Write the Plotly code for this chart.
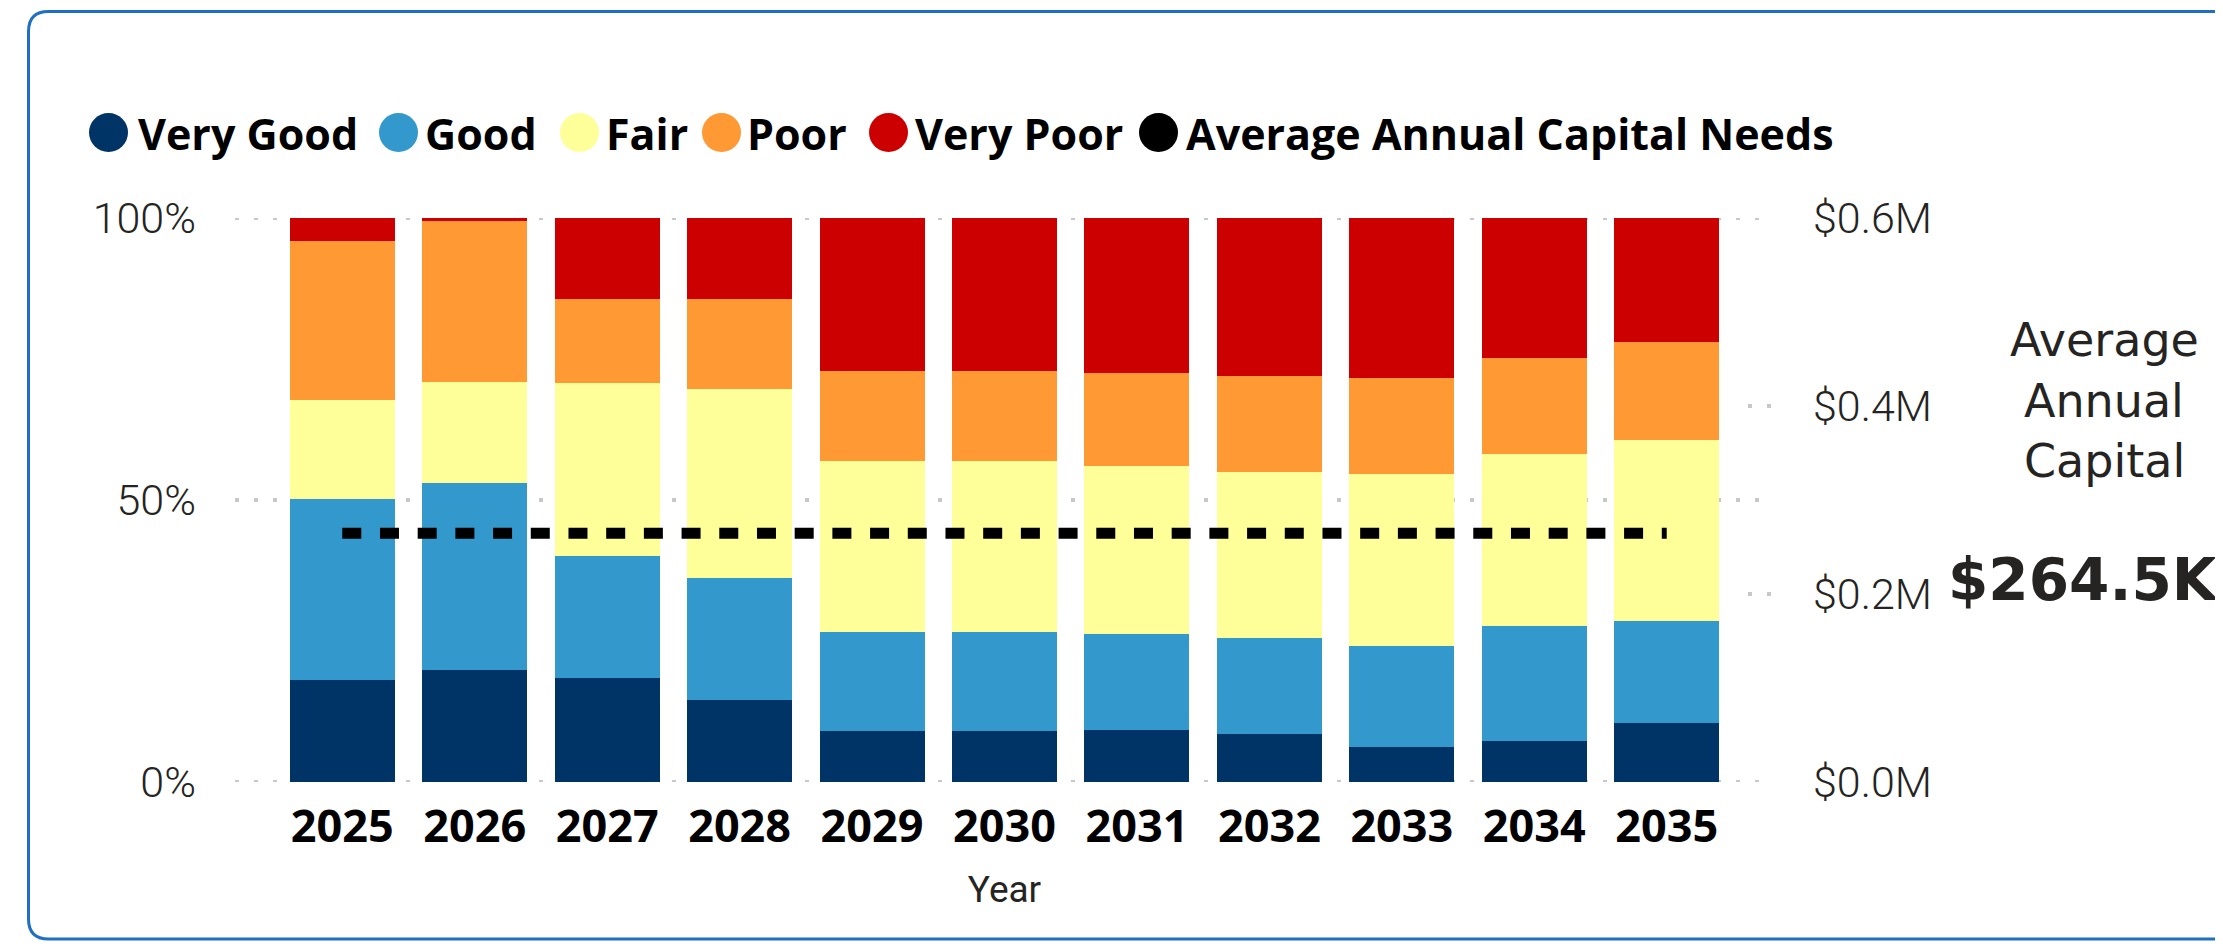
import plotly.graph_objects as go

# ---------------- data ----------------
years = ["2025", "2026", "2027", "2028", "2029", "2030", "2031", "2032", "2033", "2034", "2035"]
very_good = [0.181, 0.198, 0.184, 0.145, 0.090, 0.090, 0.092, 0.085, 0.062, 0.072, 0.104]
good      = [0.320, 0.332, 0.216, 0.217, 0.176, 0.176, 0.171, 0.170, 0.180, 0.204, 0.181]
fair      = [0.176, 0.179, 0.307, 0.334, 0.303, 0.303, 0.297, 0.294, 0.304, 0.305, 0.321]
poor      = [0.283, 0.285, 0.150, 0.160, 0.160, 0.160, 0.165, 0.170, 0.171, 0.170, 0.175]
very_poor = [0.040, 0.006, 0.143, 0.144, 0.271, 0.271, 0.275, 0.281, 0.283, 0.249, 0.219]
avg_annual_capital = 264500

pct_ticks = [0, 0.5, 1.0]
pct_labels = ["0%", "50%", "100%"]
money_ticks = [0, 200000, 400000, 600000]
money_labels = ["$0.0M", "$0.2M", "$0.4M", "$0.6M"]

series_names = ["Very Good", "Good", "Fair", "Poor", "Very Poor"]
series_values = [very_good, good, fair, poor, very_poor]
series_colors = ["#003366", "#3399CC", "#FFFF99", "#FF9933", "#CC0000"]
line_name = "Average Annual Capital Needs"
card_lines = ["Average", "Annual", "Capital"]
card_value = "$264.5K"

# ---------------- layout geometry ----------------
# measurements are in page pixels; the html body adds an 8px offset
OFF = 8
W, H = 2223, 944
L, R, T, B = 235 - OFF, 1774 - OFF, 218 - OFF, 782 - OFF
PW, PH = R - L, B - T


def X(px):
    return (px - OFF - L) / PW


def Y(py):
    return (B - (py - OFF)) / PH


fig = go.Figure()

for name, vals, col in zip(series_names, series_values, series_colors):
    fig.add_trace(go.Bar(
        x=years, y=vals, name=name, marker=dict(color=col, line=dict(width=0)),
        showlegend=False, hoverinfo="skip"))

fig.add_trace(go.Scatter(
    x=[years[0], years[-1]], y=[avg_annual_capital, avg_annual_capital],
    yaxis="y2", mode="lines", name=line_name, showlegend=False,
    line=dict(color="#000000", width=11, dash="19px,18.7px")))

tick_font = dict(family="Roboto, Open Sans, sans-serif", size=43, color="#252423", weight=300)
grid_color = "#c8c8c8"
grid_dash = "4px,15px"

fig.update_layout(
    width=W, height=H,
    margin=dict(l=L, r=W - R, t=T, b=H - B, pad=0),
    paper_bgcolor="white", plot_bgcolor="white",
    barmode="stack", bargap=0.207,
    xaxis=dict(
        type="category", range=[-0.81, 10.81], showgrid=False, showline=False, zeroline=False,
        tickfont=dict(family="Open Sans, sans-serif", size=45, color="#000000", weight=700),
        ticks="", ticklabelstandoff=14,
        title=dict(text="Year", standoff=22,
                   font=dict(family="Roboto, Open Sans, sans-serif", size=37, color="#252423")),
    ),
    yaxis=dict(
        range=[0, 1], tickvals=pct_ticks, ticktext=pct_labels, showline=False, zeroline=False,
        showgrid=True, gridcolor=grid_color, gridwidth=4, griddash=grid_dash,
        tickfont=tick_font, ticks="", ticklabelstandoff=38,
    ),
    yaxis2=dict(
        overlaying="y", side="right", range=[0, 600000], tickvals=money_ticks, ticktext=money_labels,
        showgrid=False, showline=False, zeroline=False,
        tickfont=tick_font, ticks="", ticklabelstandoff=38,
    ),
)

shapes = []
annotations = []

# dotted grid lines at the ends of the percentage axis (plotly drops edge grid lines)
for v in (pct_ticks[0], pct_ticks[-1]):
    shapes.append(dict(type="line", xref="paper", yref="y", x0=0, x1=1, y0=v, y1=v,
                       line=dict(color=grid_color, width=4, dash=grid_dash), layer="below"))

# short dotted y2 grid marks at the right edge
for v in money_ticks[1:-1]:
    shapes.append(dict(type="line", xref="paper", yref="y2", x0=X(1748), x1=X(1776), y0=v, y1=v,
                       line=dict(color=grid_color, width=4, dash=grid_dash), layer="below"))

# custom legend (large round markers)
legend_names = series_names + [line_name]
legend_colors = series_colors + ["#000000"]
circle_x = [89, 379, 560, 702, 869, 1139]
text_x = [136, 423, 604, 745, 913, 1184]
cy, d = 132.5, 39
for nm, col, cx, tx in zip(legend_names, legend_colors, circle_x, text_x):
    shapes.append(dict(type="circle", xref="paper", yref="paper",
                       x0=X(cx), x1=X(cx + d), y0=Y(cy + d / 2), y1=Y(cy - d / 2),
                       fillcolor=col, line=dict(width=0)))
    annotations.append(dict(text=nm, xref="paper", yref="paper", x=X(tx), y=Y(cy + 1),
                            xanchor="left", yanchor="middle", showarrow=False,
                            font=dict(family="Open Sans, sans-serif", size=43, color="#000000", weight=700)))

# card text on the right
for txt, yy in zip(card_lines, [340, 401, 461]):
    annotations.append(dict(text=txt, xref="paper", yref="paper",
                            x=X(2104), y=Y(yy), xanchor="center", yanchor="middle", showarrow=False,
                            font=dict(family="DejaVu Sans, sans-serif", size=46, color="#252423")))
annotations.append(dict(text=card_value, xref="paper", yref="paper",
                        x=X(2083), y=Y(580), xanchor="center", yanchor="middle", showarrow=False,
                        font=dict(family="DejaVu Sans, sans-serif", size=58, color="#252423", weight=700)))

# rounded outer border
r = 20
x0b, y0b, x1b, y1b = 28.5, 11.5, 2290, 939


def P(px, py):
    return f"{X(px)},{Y(py)}"


path = (f"M {P(x0b + r, y0b)} L {P(x1b, y0b)} L {P(x1b, y1b)} L {P(x0b + r, y1b)} "
        f"Q {P(x0b, y1b)} {P(x0b, y1b - r)} L {P(x0b, y0b + r)} Q {P(x0b, y0b)} {P(x0b + r, y0b)} Z")
shapes.append(dict(type="path", xref="paper", yref="paper", path=path,
                   line=dict(color="#1f6fc5", width=3), fillcolor="rgba(0,0,0,0)"))

fig.update_layout(shapes=shapes, annotations=annotations)

fig.write_html("out.html")
